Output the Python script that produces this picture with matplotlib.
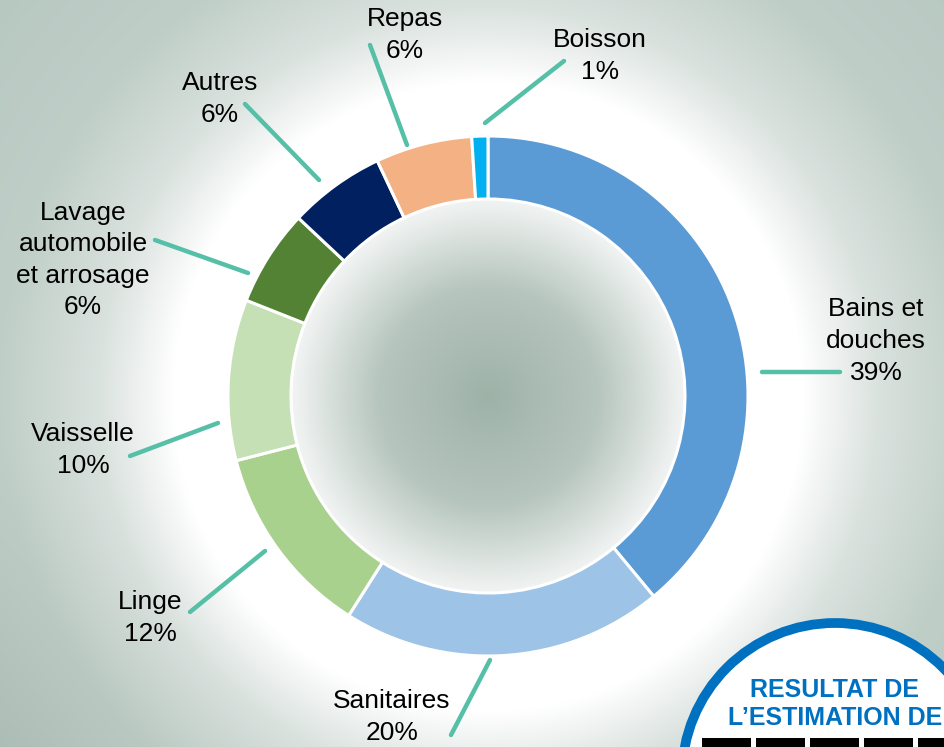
import numpy as np
import matplotlib.pyplot as plt
from matplotlib.patches import Circle, Rectangle

plt.rcParams["font.family"] = ["Liberation Sans", "DejaVu Sans"]

# data
categories = [
    "Bains et\ndouches",
    "Sanitaires",
    "Linge",
    "Vaisselle",
    "Lavage\nautomobile\net arrosage",
    "Autres",
    "Repas",
    "Boisson",
]
shares = [39, 20, 12, 10, 6, 6, 6, 1]
colors = [
    "#5B9BD5",
    "#9DC3E6",
    "#A9D18E",
    "#C5E0B4",
    "#548235",
    "#002060",
    "#F4B183",
    "#00B0F0",
]

# layout (pixel coords, y down)
W, H = 944, 747
CENTER = (488, 396)
R_OUT = 260
RING = 63
label_pos = [
    (876, 341), (392, 717), (150, 618), (83, 450),
    (83, 260), (220, 99), (405, 35), (600, 56),
]
leaders = [
    ((762, 372), (840, 372)),
    ((490, 660), (451, 735)),
    ((265, 551), (190, 612)),
    ((218, 423), (130, 456)),
    ((248, 273), (155, 240)),
    ((319, 180), (245, 104)),
    ((407, 145), (370, 45)),
    ((485, 123), (564, 61)),
]
LEADER_COLOR = "#55BFA8"


def make_background():
    yy, xx = np.mgrid[0:H, 0:W]
    d = np.hypot(xx - CENTER[0], yy - CENTER[1])
    t = np.interp(
        d,
        [0, 110, 180, 220, 315, 390, 490, 650, 900],
        [0.0, 0.25, 0.75, 1.0, 1.0, 0.6, 0.28, 0.1, 0.0],
    )
    inner = np.array([158, 178, 168]) / 255
    outer = np.array([172, 192, 184]) / 255
    # darker towards the lower left
    w = np.clip((d - 300) / 300, 0, 1)[..., None]
    base = inner * (1 - w) + outer * w
    shade = np.clip((yy - 450) / 300, 0, 1) * np.clip((300 - xx) / 300, 0, 1)
    base = base - 0.06 * shade[..., None]
    img = base * (1 - t[..., None]) + t[..., None]
    return np.clip(img, 0, 1)


fig = plt.figure(figsize=(W / 100, H / 100), dpi=100)
ax = fig.add_axes([0, 0, 1, 1])

ax.imshow(make_background(), extent=(0, W, H, 0), origin="upper", zorder=0)

ax.pie(
    shares,
    colors=colors,
    center=CENTER,
    radius=R_OUT,
    startangle=-90,
    counterclock=True,
    wedgeprops=dict(width=RING, edgecolor="white", linewidth=2.2),
)

for name, share, (lx, ly), (p0, p1) in zip(categories, shares, label_pos, leaders):
    ax.plot(
        [p0[0], p1[0]], [p0[1], p1[1]],
        color=LEADER_COLOR, lw=3.2, solid_capstyle="round", zorder=3,
    )
    ax.text(
        lx, ly, f"{name}\n{share}%",
        ha="center", va="center", fontsize=19,
        linespacing=1.4, color="black", zorder=4,
    )

# badge in the lower right corner
ax.add_patch(Circle((835, 776), 153, facecolor="white",
                    edgecolor="#0070C0", lw=7, zorder=5))
ax.text(835, 690, "RESULTAT DE", ha="center", va="center",
        fontsize=18, fontweight="bold", color="#0070C0", zorder=6)
ax.text(835, 718, "L\u2019ESTIMATION DE", ha="center", va="center",
        fontsize=18, fontweight="bold", color="#0070C0", zorder=6)
for i in range(5):
    ax.add_patch(Rectangle((702 + i * 54, 738), 49, 12,
                           facecolor="black", edgecolor="none", zorder=6))

ax.set_xlim(0, W)
ax.set_ylim(H, 0)
ax.set_aspect("equal")
ax.axis("off")

fig.savefig("out.png", dpi=100)
